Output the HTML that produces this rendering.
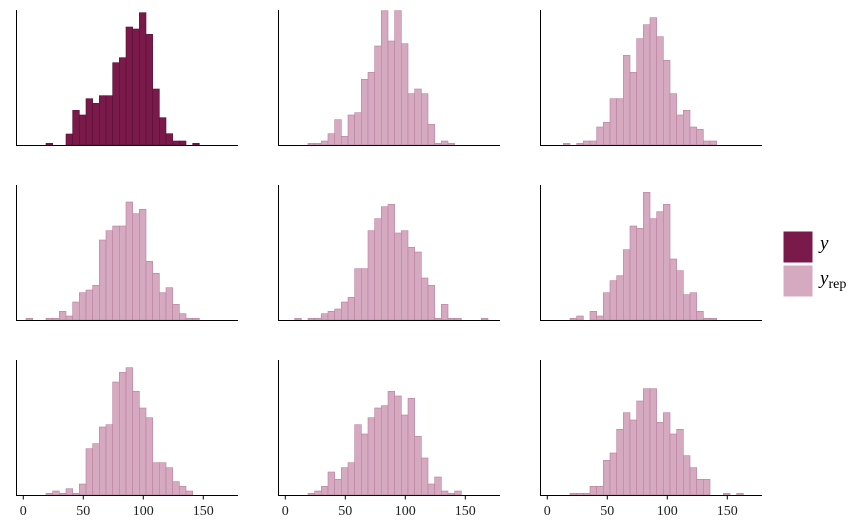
<!DOCTYPE html>
<html><head><meta charset="utf-8"><style>
body{margin:0;background:#fff;}
svg{display:block;}
</style></head><body>
<svg id="s" width="864" height="530" xmlns="http://www.w3.org/2000/svg" font-family="Liberation Serif, serif">
<g id="bars"></g>
<g stroke="#000" stroke-width="1" fill="none">
<path d="M16.5,10 V145.5 H238 M278.5,10 V145.5 H500 M540.5,10 V145.5 H762"/>
<path d="M16.5,185 V320.5 H238 M278.5,185 V320.5 H500 M540.5,185 V320.5 H762"/>
<path d="M16.5,360 V495.5 H238 M278.5,360 V495.5 H500 M540.5,360 V495.5 H762"/>
</g>
<g id="ticks" stroke="#000"></g>
<g id="labels" font-size="14" fill="#222" text-anchor="middle"></g>
<rect x="783" y="231" width="30" height="32" fill="#7a1a4a" stroke="#fff"/>
<rect x="783" y="265" width="30" height="32" fill="#d5a9c0" stroke="#fff"/>
<text x="820" y="249" font-size="19" font-style="italic">y</text>
<text x="820" y="284" font-size="19" font-style="italic">y<tspan font-size="14" font-style="normal" dy="4">rep</tspan></text>
</svg>
<script>
var P=[
[10,5,108,[415,420,420,387,316,330,281,295,272,272,173,158,66,72,23,88,252,338,386,408,408,420,415],1],
[272,5,108,[415,415,408,386,344,394,330,323,223,202,123,17,108,17,116,266,252,266,358,415,408,415]],
[534,5,88,[415,420,415,408,408,366,352,281,281,151,202,101,59,38,95,166,266,330,316,366,373,408,408]],
[10,180,48,[415,420,420,415,415,394,408,366,338,330,316,180,152,138,138,66,101,88,244,280,338,323,373,401,415,415]],
[272,180,68,[415,420,415,415,401,394,387,366,352,266,266,152,116,80,73,159,152,202,216,294,316,415,373,415,415,420,420,420,415]],
[534,180,108,[415,408,420,394,408,338,302,287,209,138,145,37,116,95,73,237,272,344,338,394,415,415]],
[10,355,108,[415,408,415,401,415,387,281,266,216,209,81,52,38,109,159,188,323,323,338,380,394,408]],
[272,355,108,[415,408,394,351,373,338,323,209,237,188,159,152,109,123,180,130,244,309,387,366,408,415,408]],
[534,355,108,[415,415,415,394,394,316,294,223,173,195,138,101,101,202,173,237,223,302,338,373,373,420,420,415,420,415]]
];
var g=document.getElementById('bars'),h='';
P.forEach(function(p){
 var ox=p[0],oy=p[1],sx=p[2],a=p[3],dark=p[4];
 var base=oy+140;
 a.forEach(function(t,i){
  if(t>=420)return;
  var x=ox+(sx+20*i)/3, y=oy+t/3, hh=base-y;
  h+='<rect x="'+x.toFixed(2)+'" y="'+y.toFixed(2)+'" width="6.67" height="'+hh.toFixed(2)+'" fill="'+(dark?'#7a1a4a':'#d5a9c0')+'" stroke="'+(dark?'#5a0f35':'#b9809f')+'" stroke-width="0.6"/>';
 });
});
g.innerHTML=h;
var tk='',lb='';
[10,272,534].forEach(function(ox){
 [0,50,100,150].forEach(function(v,i){
  var x=ox+13.3+60*i;
  tk+='<line x1="'+x+'" y1="495.5" x2="'+x+'" y2="499.5"/>';
  lb+='<text x="'+x+'" y="515">'+v+'</text>';
 });
});
document.getElementById('ticks').innerHTML=tk;
document.getElementById('labels').innerHTML=lb;
</script>
</body></html>
